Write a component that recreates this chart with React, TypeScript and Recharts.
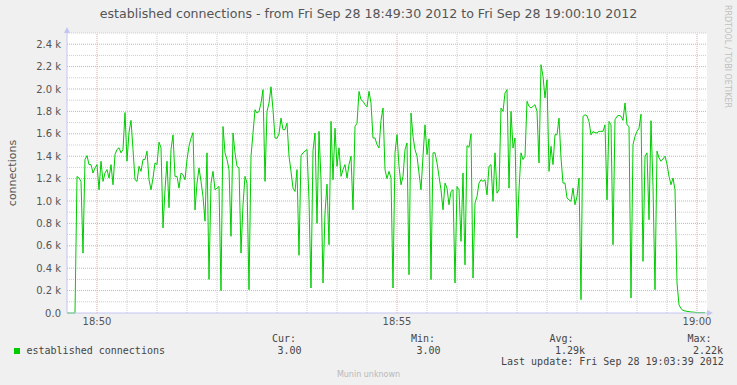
import { CartesianGrid, Line, LineChart, ReferenceLine, XAxis, YAxis } from "recharts";

// seconds after 18:49:30, one sample every 2 s
const sampleStep = 2;

const connections = [
    0, 0, 0, 0, 0, 1220, 1205, 1175, 535, 1370,
    1405, 1325, 1325, 1250, 1295, 1325, 1100, 1355, 1175, 1250,
    1280, 1205, 1325, 1145, 1415, 1460, 1475, 1430, 1460, 1790,
    1355, 1615, 1720, 1460, 1190, 1175, 1310, 1265, 1370, 1370,
    1445, 1190, 1100, 1205, 1340, 1325, 1525, 1475, 760, 1100,
    1355, 940, 1460, 1590, 1220, 1220, 1115, 1250, 1235, 1190,
    1370, 1490, 1560, 1610, 920, 1160, 1295, 1175, 1040, 820,
    1430, 300, 1160, 1265, 1100, 1115, 1130, 200, 1665, 1430,
    1370, 1280, 685, 1607, 1430, 1310, 1295, 535, 967, 1220,
    1160, 208, 1400, 1607, 1815, 1785, 1800, 1875, 1994, 1175,
    1800, 1875, 2020, 1815, 1562, 1560, 1600, 1740, 1637, 1637,
    1695, 1400, 1265, 1115, 1085, 1280, 515, 1405, 1430, 1445,
    1460, 1010, 223, 1450, 1607, 800, 1622, 1190, 268, 892,
    1150, 610, 1711, 1190, 1650, 1310, 1475, 1220, 1280, 1325,
    1205, 1325, 1400, 922, 1665, 1695, 1978, 1905, 1890, 1860,
    1840, 1980, 1875, 1562, 1562, 1503, 1473, 1720, 1830, 1280,
    1200, 1265, 1205, 223, 1430, 1592, 1310, 1145, 1220, 1458,
    1518, 342, 1785, 1577, 1458, 1400, 1250, 1100, 1400, 1680,
    1415, 1555, 298, 1430, 1430, 1340, 1220, 1100, 922, 1160,
    1115, 967, 1085, 1100, 268, 1130, 1100, 640, 1250, 430,
    1494, 1480, 1600, 312, 982, 1040, 1160, 1190, 1175, 1190,
    1055, 1310, 1325, 997, 1430, 1070, 1100, 1830, 1800, 1964,
    1994, 1115, 1800, 1473, 1562, 670, 1100, 1430, 1370, 1400,
    1890, 1845, 1830, 1845, 1860, 1800, 1340, 2217, 2113, 1920,
    2083, 1265, 1488, 1325, 1592, 1592, 1740, 1385, 1160, 1160,
    1027, 1010, 997, 1115, 967, 1040, 1205, 119, 1756, 1770,
    1760, 1710, 1590, 1620, 1610, 1607, 1622, 1622, 1622, 1680,
    1010, 1711, 1680, 610, 1726, 1756, 1765, 1756, 1720, 1875,
    1680, 1665, 134, 1503, 1577, 1622, 1650, 1775, 461, 1400,
    1430, 833, 1717, 1130, 208, 1445, 1385, 1355, 1375, 1400,
    1330, 1220, 1145, 1205, 1100, 268, 74, 39, 24, 18,
    15, 12, 9, 8, 6, 3, 3, 3, 3, 3,
];

const xTicks = [30, 330, 630];
const xTickLabels = ["18:50", "18:55", "19:00"];
const yTicks = [0, 200, 400, 600, 800, 1000, 1200, 1400, 1600, 1800, 2000, 2200, 2400];
const yTickLabels = ["0.0", "0.2 k", "0.4 k", "0.6 k", "0.8 k", "1.0 k", "1.2 k", "1.4 k", "1.6 k", "1.8 k", "2.0 k", "2.2 k", "2.4 k"];

const legendStats = [
    { label: "Cur:", value: "3.00", x: 272, vx: 277.5 },
    { label: "Min:", value: "3.00", x: 411, vx: 416.5 },
    { label: "Avg:", value: "1.29k", x: 549.5, vx: 555 },
    { label: "Max:", value: "2.22k", x: 687.5, vx: 693 },
];

const minorY = Array.from({ length: 13 }, (_, i) => 100 + i * 200);
const minorX = Array.from({ length: 19 }, (_, i) => 60 + i * 30).filter((s) => !xTicks.includes(s));

const data = connections.map((v, i) => ({ t: i * sampleStep, v }));

const axisColor = "#c4c4f0";
const mono = "'DejaVu Sans Mono', monospace";

export default function App() {
    return (
        <div style={{ position: "absolute", left: 0, top: 0, width: 737, height: 385, background: "#f0f0f0", fontFamily: "'DejaVu Sans', sans-serif" }}>
            <LineChart width={737} height={385} data={data} margin={{ top: 33, right: 30, bottom: 52, left: 0 }}>
                <CartesianGrid fill="#ffffff" horizontal={false} vertical={false} />
                {minorY.map((y) => (
                    <ReferenceLine key={"my" + y} y={y} stroke="#cccccc" strokeDasharray="1 1" />
                ))}
                {yTicks.slice(1).map((y) => (
                    <ReferenceLine key={"My" + y} y={y} stroke="#e2a8a8" strokeDasharray="1 1" />
                ))}
                {minorX.map((x) => (
                    <ReferenceLine key={"mx" + x} x={x} stroke="#cccccc" strokeDasharray="1 1" />
                ))}
                {xTicks.map((x) => (
                    <ReferenceLine key={"Mx" + x} x={x} stroke="#e2a8a8" strokeDasharray="1 1" />
                ))}
                <XAxis
                    dataKey="t"
                    type="number"
                    domain={[0, 640]}
                    ticks={xTicks}
                    tickFormatter={(v) => xTickLabels[xTicks.indexOf(v)]}
                    height={20}
                    tickSize={0}
                    tickMargin={5}
                    axisLine={{ stroke: axisColor }}
                    tick={{ fill: "#555", fontSize: 10 }}
                />
                <YAxis
                    type="number"
                    domain={[0, 2500]}
                    ticks={yTicks}
                    tickFormatter={(v) => yTickLabels[yTicks.indexOf(v)]}
                    width={67}
                    tickSize={0}
                    tickMargin={6}
                    axisLine={{ stroke: axisColor }}
                    tick={{ fill: "#555", fontSize: 10 }}
                />
                <Line dataKey="v" type="linear" stroke="#00cc00" strokeWidth={1} dot={false} isAnimationActive={false} />
            </LineChart>
            <svg width={737} height={385} style={{ position: "absolute", left: 0, top: 0, pointerEvents: "none" }}>
                <polygon points="64,33 70,33 67,27" fill={axisColor} />
                <polygon points="707,310 707,316 713,313" fill={axisColor} />
                <text x={368.5} y={18.3} textAnchor="middle" fontSize={12.6} fill="#555">
                    established connections - from Fri Sep 28 18:49:30 2012 to Fri Sep 28 19:00:10 2012
                </text>
                <text transform="translate(15.5,173) rotate(-90)" textAnchor="middle" fontSize={11} fill="#555">
                    connections
                </text>
                <text transform="translate(725,5) rotate(90)" fontSize={8} fill="#c0c0c0" textLength={103} lengthAdjust="spacingAndGlyphs">
                    RRDTOOL / TOBI OETIKER
                </text>
                <rect x={14} y={348} width={6} height={6} fill="#00cc00" />
                <text x={26.5} y={354} fontFamily={mono} fontSize={10} fill="#444">
                    established connections
                </text>
                {legendStats.map((s) => (
                    <g key={s.label}>
                        <text x={s.x} y={342.3} fontFamily={mono} fontSize={10} fill="#444">{s.label}</text>
                        <text x={s.vx} y={354} fontFamily={mono} fontSize={10} fill="#444">{s.value}</text>
                    </g>
                ))}
                <text x={501} y={365.3} fontFamily={mono} fontSize={10} fill="#444">
                    Last update: Fri Sep 28 19:03:39 2012
                </text>
                <text x={368.5} y={377} textAnchor="middle" fontSize={8} fill="#b8b8b8">
                    Munin unknown
                </text>
            </svg>
        </div>
    );
}
